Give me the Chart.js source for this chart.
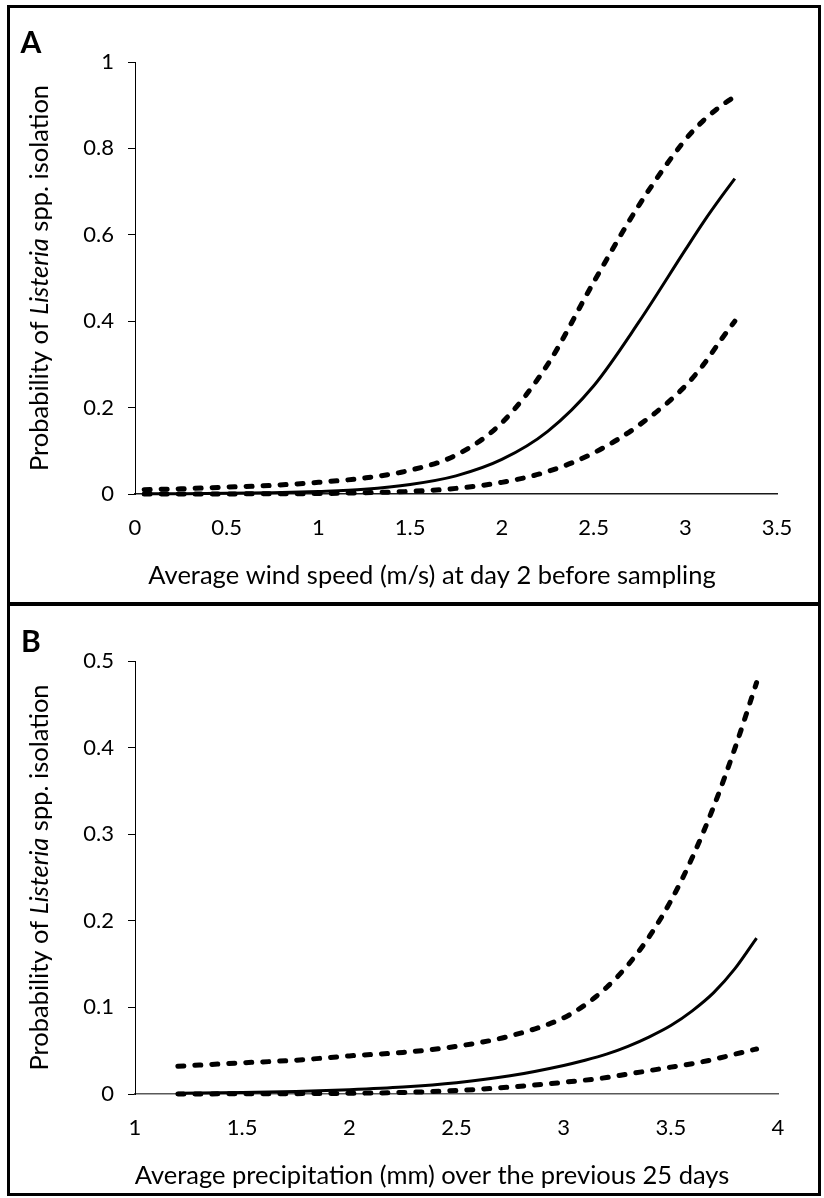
<!DOCTYPE html>
<html>
<head>
<meta charset="utf-8">
<script src="https://cdn.jsdelivr.net/npm/chart.js@4.4.1/dist/chart.umd.min.js"></script>
<style>
  html, body { margin: 0; padding: 0; background: #fff; }
  body { width: 824px; height: 1198px; position: relative; overflow: hidden; }
  canvas { position: absolute; left: 0; }
  #windChart { top: 0; }
  #rainChart { top: 604px; }
  .frame { position: absolute; border: 3px solid #000; box-sizing: border-box; pointer-events: none; }
</style>
</head>
<body>
<canvas id="windChart" width="824" height="604"></canvas>
<canvas id="rainChart" width="824" height="594"></canvas>
<div class="frame" style="left:7px;top:5px;width:814px;height:601px"></div>
<div class="frame" style="left:7px;top:602px;width:814px;height:594px"></div>

<script>
// A: wind speed model
const windX     = [0.05, 0.25, 0.5, 0.75, 1.0, 1.25, 1.5, 1.75, 2.0, 2.25, 2.5, 2.75, 3.0, 3.1, 3.2, 3.27];
const windFit   = [0.0005, 0.0008, 0.0015, 0.003, 0.006, 0.011, 0.022, 0.042, 0.08, 0.145, 0.25, 0.40, 0.565, 0.63, 0.69, 0.73];
const windUpper = [0.010, 0.012, 0.016, 0.020, 0.027, 0.037, 0.055, 0.09, 0.165, 0.30, 0.49, 0.67, 0.82, 0.865, 0.90, 0.92];
const windLower = [0.0, 0.0001, 0.0002, 0.0005, 0.001, 0.003, 0.006, 0.013, 0.027, 0.052, 0.095, 0.16, 0.25, 0.30, 0.36, 0.40];
const windXTicks = [0, 0.5, 1, 1.5, 2, 2.5, 3, 3.5];
const windYTicks = [0, 0.2, 0.4, 0.6, 0.8, 1];

// B: precipitation model
const rainX     = [1.2, 1.5, 1.75, 2.0, 2.25, 2.5, 2.75, 3.0, 3.1, 3.2, 3.3, 3.4, 3.5, 3.6, 3.7, 3.8, 3.9];
const rainFit   = [0.001, 0.0018, 0.003, 0.005, 0.008, 0.013, 0.021, 0.033, 0.039, 0.046, 0.055, 0.066, 0.079, 0.096, 0.117, 0.145, 0.18];
const rainUpper = [0.032, 0.036, 0.039, 0.044, 0.048, 0.055, 0.067, 0.088, 0.103, 0.123, 0.149, 0.182, 0.223, 0.273, 0.332, 0.40, 0.475];
const rainLower = [0.0001, 0.0002, 0.0004, 0.0008, 0.0018, 0.004, 0.008, 0.0135, 0.016, 0.019, 0.023, 0.027, 0.031, 0.035, 0.040, 0.046, 0.052];
const rainXTicks = [1, 1.5, 2, 2.5, 3, 3.5, 4];
const rainYTicks = [0, 0.1, 0.2, 0.3, 0.4, 0.5];

const FONT = "Lato, 'Open Sans', sans-serif";
const TITLE_SIZE = 25.5;

function pts(xs, ys) {
    return xs.map((x, i) => ({ x: x, y: ys[i] }));
}

function curve(xs, ys, dashed) {
    return {
        data: pts(xs, ys),
        borderColor: "#000",
        borderWidth: dashed ? 5 : 3,
        borderDash: dashed ? [6, 11] : [],
        borderCapStyle: dashed ? "round" : "butt",
        pointRadius: 0,
        cubicInterpolationMode: "monotone",
        fill: false,
        clip: false
    };
}

// panel letter, x title and the rotated y title with the genus in italics
const panelText = {
    id: "panelText",
    afterDraw(chart, args, opts) {
        const ctx = chart.ctx;
        const area = chart.chartArea;
        ctx.save();
        ctx.fillStyle = "#000";
        ctx.textBaseline = "middle";
        ctx.textAlign = "center";
        ctx.font = "bold 30px " + FONT;
        ctx.fillText(opts.letter, opts.letterX, opts.letterY);

        ctx.font = TITLE_SIZE + "px " + FONT;
        ctx.fillText(opts.xTitle, opts.xTitleX, area.bottom + opts.xTitleGap);

        const parts = [
            ["Probability of ", ""],
            ["Listeria", "italic "],
            [" spp. isolation", ""]
        ];
        let total = 0;
        parts.forEach(p => {
            ctx.font = p[1] + TITLE_SIZE + "px " + FONT;
            total += ctx.measureText(p[0]).width;
        });
        ctx.translate(opts.titleX, (area.top + area.bottom) / 2);
        ctx.rotate(-Math.PI / 2);
        ctx.textAlign = "left";
        let x = -total / 2;
        parts.forEach(p => {
            ctx.font = p[1] + TITLE_SIZE + "px " + FONT;
            ctx.fillText(p[0], x, 0);
            x += ctx.measureText(p[0]).width;
        });
        ctx.restore();
    }
};

function makeChart(id, cfg) {
    const el = document.getElementById(id);
    return new Chart(el, {
        type: "line",
        data: {
            datasets: [
                curve(cfg.xs, cfg.upper, true),
                curve(cfg.xs, cfg.fit, false),
                curve(cfg.xs, cfg.lower, true)
            ]
        },
        options: {
            responsive: false,
            animation: false,
            layout: { padding: { top: cfg.top, right: cfg.right, left: 0, bottom: 0 } },
            plugins: {
                legend: { display: false },
                tooltip: { enabled: false },
                panelText: {
                    letter: cfg.letter, letterX: 31, letterY: cfg.letterY, titleX: 40,
                    xTitle: cfg.xTitle, xTitleX: 432, xTitleGap: 82
                }
            },
            scales: {
                x: {
                    type: "linear",
                    min: cfg.xTicks[0],
                    max: cfg.xTicks[cfg.xTicks.length - 1],
                    afterBuildTicks: s => { s.ticks = cfg.xTicks.map(v => ({ value: v })); },
                    afterFit: s => { s.height = cfg.xHeight; },
                    grid: { display: false },
                    border: { display: true, color: cfg.xAxisColor, width: 1.5 },
                    ticks: { color: "#000", padding: 13, maxRotation: 0, font: { family: FONT, size: 22 },
                             callback: v => String(v) }
                },
                y: {
                    type: "linear",
                    min: cfg.yTicks[0],
                    max: cfg.yTicks[cfg.yTicks.length - 1],
                    afterBuildTicks: s => { s.ticks = cfg.yTicks.map(v => ({ value: v })); },
                    afterFit: s => { s.width = 135; },
                    grid: { display: true, drawOnChartArea: false, drawTicks: true, tickLength: 7, color: "#000", lineWidth: 1 },
                    border: { display: true, color: "#000", width: 1 },
                    ticks: { color: "#000", padding: 14, font: { family: FONT, size: 22 },
                             callback: v => String(v) }
                }
            }
        },
        plugins: [panelText]
    });
}

document.addEventListener("DOMContentLoaded", () => {
    makeChart("windChart", {
        xs: windX, fit: windFit, upper: windUpper, lower: windLower,
        xTicks: windXTicks, yTicks: windYTicks,
        top: 62, right: 47, xHeight: 110,
        xAxisColor: "#1a1a1a", letter: "A", letterY: 43,
        xTitle: "Average wind speed (m/s) at day 2 before sampling"
    });
    makeChart("rainChart", {
        xs: rainX, fit: rainFit, upper: rainUpper, lower: rainLower,
        xTicks: rainXTicks, yTicks: rainYTicks,
        top: 57, right: 46, xHeight: 104,
        xAxisColor: "#595959", letter: "B", letterY: 38,
        xTitle: "Average precipitation (mm) over the previous 25 days"
    });
});
</script>
</body>
</html>
